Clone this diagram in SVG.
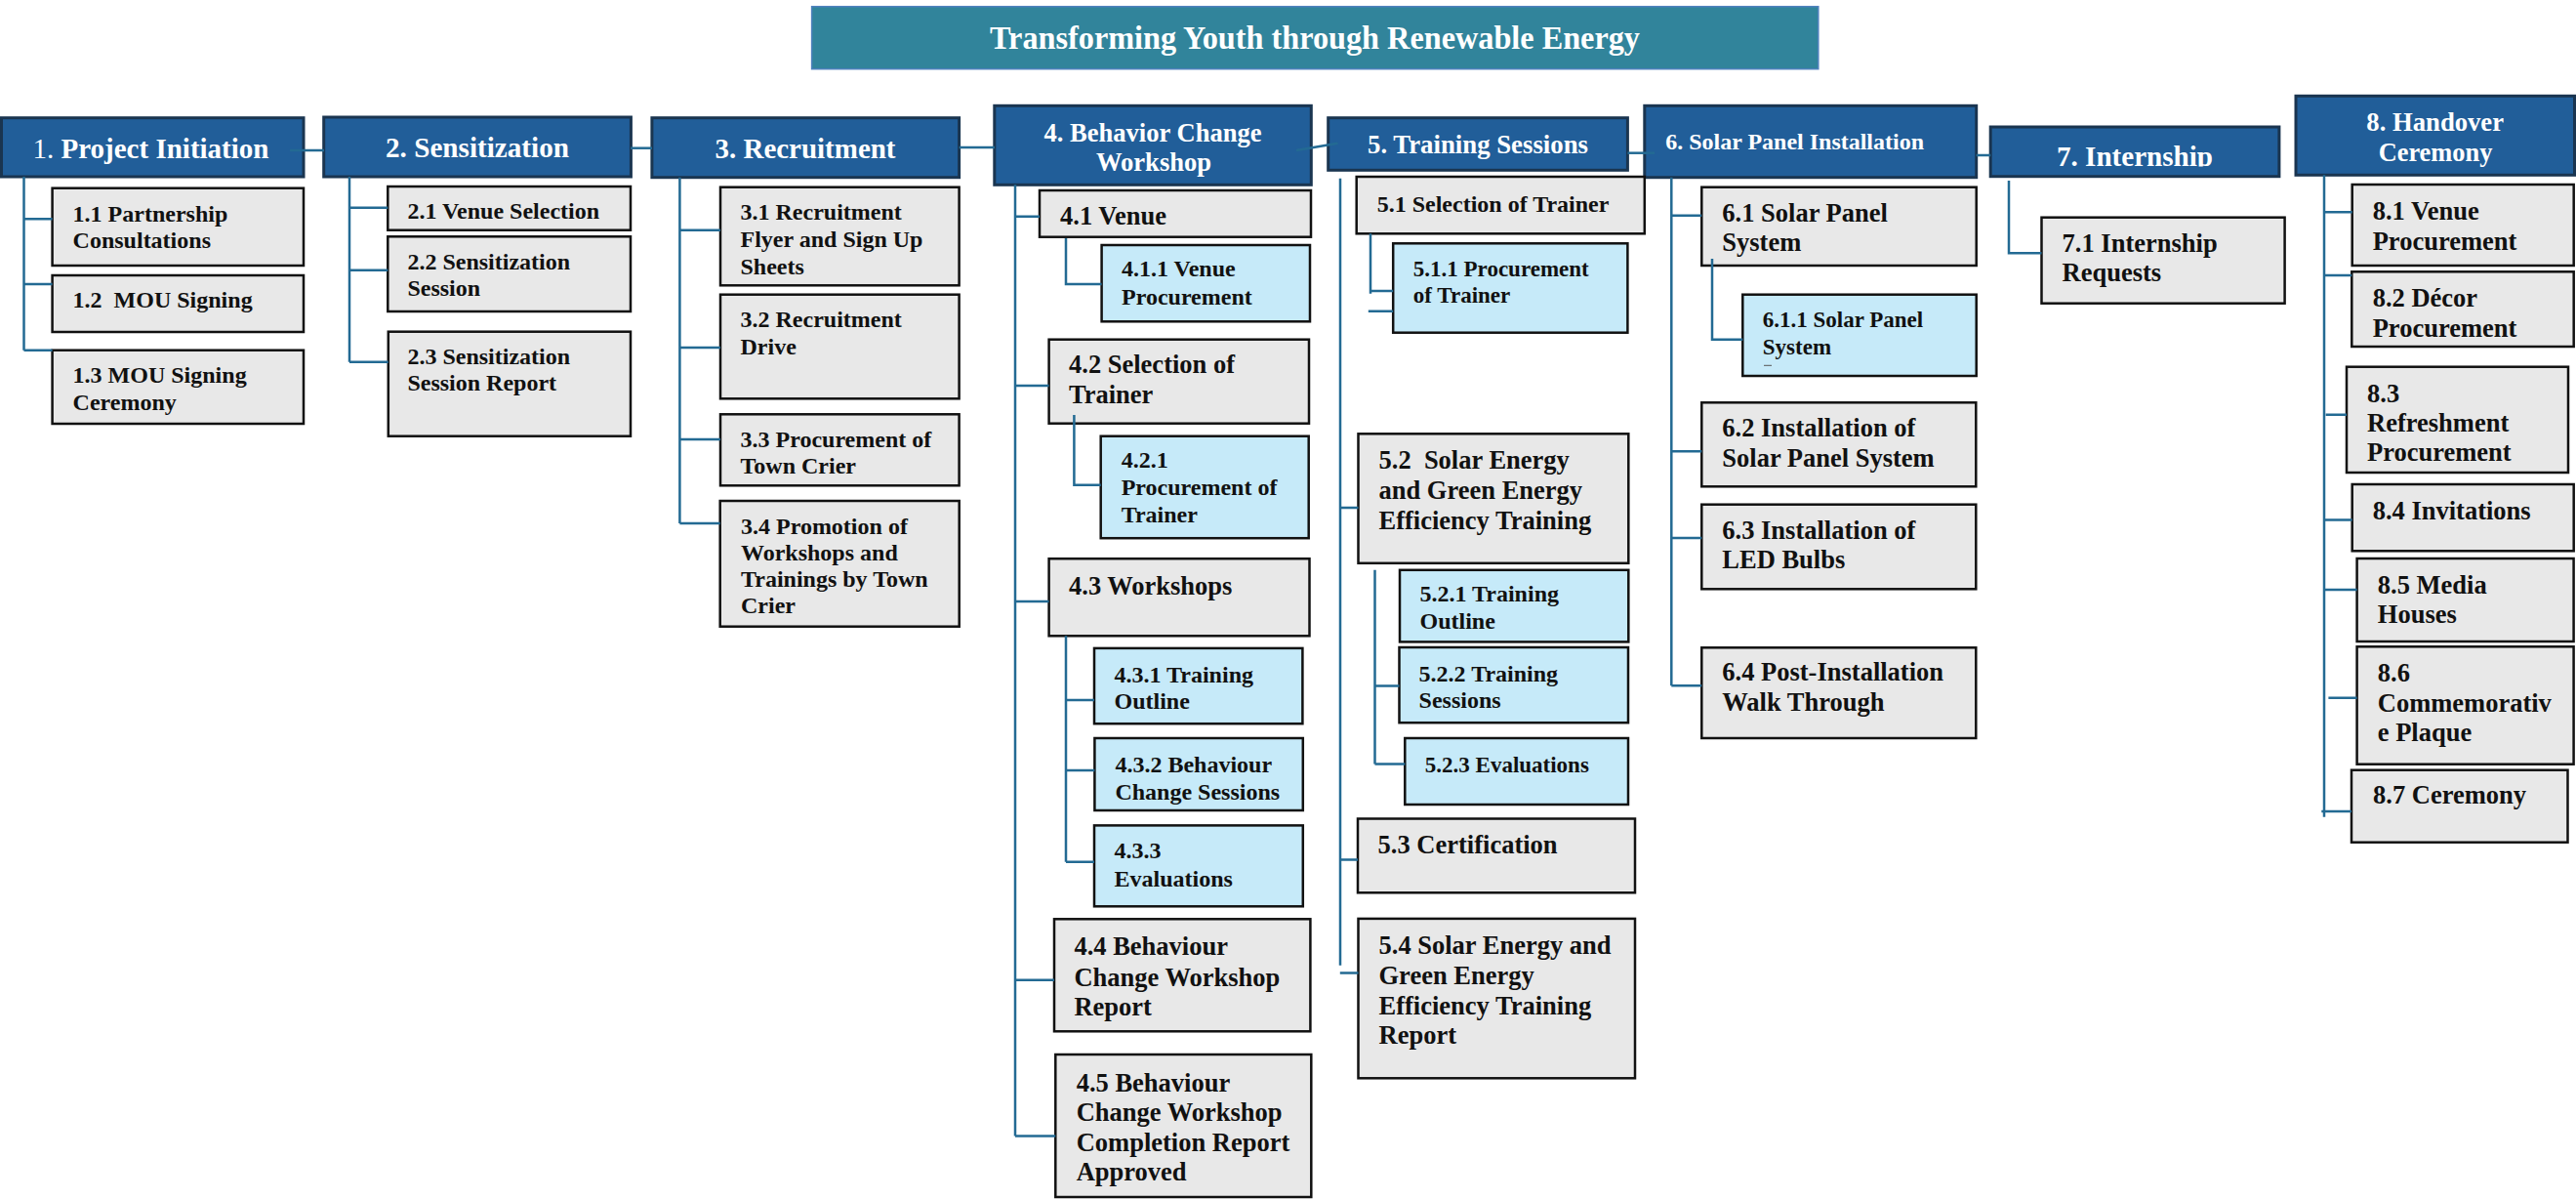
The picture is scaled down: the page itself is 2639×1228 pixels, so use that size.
<svg xmlns="http://www.w3.org/2000/svg" width="2639" height="1228" viewBox="0 0 2639 1228">
  <defs>
    <style>
      .title-box { fill: #31849b; stroke: #4f81bd; stroke-width: 1.5; }
      .hd { fill: #215e99; stroke: #1a3550; stroke-width: 3; }
      .gy { fill: #e8e8e8; stroke: #111; stroke-width: 2.5; }
      .lb { fill: #c6eaf9; stroke: #111; stroke-width: 2.5; }
      .ttl { font-family: "Liberation Serif", serif; font-weight: bold; font-size: 33px; fill: #fff; }
      .ht { font-family: "Liberation Serif", serif; font-weight: bold; fill: #fff; }
      .t24 { font-family: "Liberation Serif", serif; font-weight: bold; font-size: 24px; fill: #111; }
      .t23 { font-family: "Liberation Serif", serif; font-weight: bold; font-size: 23px; fill: #111; }
      .t26 { font-family: "Liberation Serif", serif; font-weight: bold; font-size: 26.5px; fill: #111; }
      .cn path { stroke: #236a93; stroke-width: 2.5; fill: none; }
    </style>
    <clipPath id="clip-h7">
      <rect x="2039" y="130" width="296" height="40.5"/>
    </clipPath>
  </defs>

  <rect width="2639" height="1228" fill="#fff"/>

  <!-- Title banner -->
  <g id="title">
    <rect class="title-box" x="831.6" y="6.7" width="1031.2" height="64"/>
    <text class="ttl" x="1347" y="50" text-anchor="middle" textLength="666" lengthAdjust="spacingAndGlyphs">Transforming Youth through Renewable Energy</text>
  </g>

  <!-- Level 1 deliverables -->
  <g id="n1">
    <rect class="hd" x="1.5" y="120.7" width="309.5" height="60.3"/>
    <text class="ht" x="154.5" y="162.3" font-size="30" text-anchor="middle" textLength="242" lengthAdjust="spacingAndGlyphs"><tspan font-weight="normal">1.</tspan> Project Initiation</text>
  </g>
  <g id="n2">
    <rect class="hd" x="331.7" y="120" width="314.7" height="61"/>
    <text class="ht" x="489" y="161" font-size="30" text-anchor="middle" textLength="188" lengthAdjust="spacingAndGlyphs">2. Sensitization</text>
  </g>
  <g id="n3">
    <rect class="hd" x="667.9" y="120.7" width="314.7" height="61"/>
    <text class="ht" x="825" y="161.7" font-size="30" text-anchor="middle" textLength="185" lengthAdjust="spacingAndGlyphs">3. Recruitment</text>
  </g>
  <g id="n4">
    <rect class="hd" x="1018.8" y="108.3" width="324.5" height="81"/>
    <text class="ht" x="1181" y="145" font-size="28" text-anchor="middle" textLength="223" lengthAdjust="spacingAndGlyphs">4. Behavior Change</text>
    <text class="ht" x="1182" y="175" font-size="28" text-anchor="middle" textLength="118" lengthAdjust="spacingAndGlyphs">Workshop</text>
  </g>
  <g id="n5">
    <rect class="hd" x="1360.7" y="120.7" width="306.7" height="53.6"/>
    <text class="ht" x="1514" y="156.7" font-size="28" text-anchor="middle" textLength="226" lengthAdjust="spacingAndGlyphs">5. Training Sessions</text>
  </g>
  <g id="n6">
    <rect class="hd" x="1684.8" y="108.3" width="339.9" height="73.4"/>
    <text class="ht" x="1706.3" y="153.3" font-size="23" font-weight="normal" textLength="264.7" lengthAdjust="spacingAndGlyphs">6. Solar Panel Installation</text>
  </g>
  <g id="n7">
    <rect class="hd" x="2039.2" y="130" width="295.7" height="50.7"/>
    <text class="ht" x="2187" y="170" font-size="30" text-anchor="middle" textLength="160" lengthAdjust="spacingAndGlyphs" clip-path="url(#clip-h7)">7. Internship</text>
  </g>
  <g id="n8">
    <rect class="hd" x="2352" y="98.3" width="285.5" height="81"/>
    <text class="ht" x="2494.7" y="134.3" font-size="27" text-anchor="middle" textLength="140.7" lengthAdjust="spacingAndGlyphs">8. Handover</text>
    <text class="ht" x="2495" y="165" font-size="27" text-anchor="middle" textLength="116.7" lengthAdjust="spacingAndGlyphs">Ceremony</text>
  </g>

  <!-- 1. Project Initiation -->
  <g id="n1-1">
    <rect class="gy" x="53.6" y="192.7" width="257.4" height="79.3"/>
    <text class="t24"><tspan x="74.6" y="226.7">1.1 Partnership</tspan><tspan x="74.6" y="254">Consultations</tspan></text>
  </g>
  <g id="n1-2">
    <rect class="gy" x="53.6" y="282" width="257.4" height="58"/>
    <text class="t24" xml:space="preserve" x="74.6" y="315">1.2  MOU Signing</text>
  </g>
  <g id="n1-3">
    <rect class="gy" x="53.6" y="358.7" width="257.4" height="75.3"/>
    <text class="t24"><tspan x="74.6" y="391.7">1.3 MOU Signing</tspan><tspan x="74.6" y="420">Ceremony</tspan></text>
  </g>

  <!-- 2. Sensitization -->
  <g id="n2-1">
    <rect class="gy" x="397.3" y="191" width="248.7" height="44.7"/>
    <text class="t24" x="417.4" y="224">2.1 Venue Selection</text>
  </g>
  <g id="n2-2">
    <rect class="gy" x="397.3" y="242.3" width="248.7" height="76.7"/>
    <text class="t24"><tspan x="417.4" y="276">2.2 Sensitization</tspan><tspan x="417.4" y="302.7">Session</tspan></text>
  </g>
  <g id="n2-3">
    <rect class="gy" x="397.8" y="339.7" width="248.2" height="107"/>
    <text class="t24"><tspan x="417.4" y="372.7">2.3 Sensitization</tspan><tspan x="417.4" y="400">Session Report</tspan></text>
  </g>

  <!-- 3. Recruitment -->
  <g id="n3-1">
    <rect class="gy" x="738" y="191.7" width="244.6" height="100.6"/>
    <text class="t24"><tspan x="758.5" y="225">3.1 Recruitment</tspan><tspan x="758.5" y="253">Flyer and Sign Up</tspan><tspan x="758.5" y="280.7">Sheets</tspan></text>
  </g>
  <g id="n3-2">
    <rect class="gy" x="738" y="301.7" width="244.6" height="106.6"/>
    <text class="t24"><tspan x="758.5" y="335">3.2 Recruitment</tspan><tspan x="758.5" y="362.7">Drive</tspan></text>
  </g>
  <g id="n3-3">
    <rect class="gy" x="738" y="424.3" width="244.6" height="73"/>
    <text class="t24"><tspan x="758.5" y="457.7">3.3 Procurement of</tspan><tspan x="758.5" y="485">Town Crier</tspan></text>
  </g>
  <g id="n3-4">
    <rect class="gy" x="737.7" y="513" width="245" height="128.7"/>
    <text class="t24"><tspan x="759" y="546.7">3.4 Promotion of</tspan><tspan x="759" y="573.5">Workshops and</tspan><tspan x="759" y="600.7">Trainings by Town</tspan><tspan x="759" y="628.3">Crier</tspan></text>
  </g>

  <!-- 4. Behavior Change Workshop -->
  <g id="n4-1">
    <rect class="gy" x="1065" y="195" width="278" height="47.7"/>
    <text class="t26" x="1086" y="230">4.1 Venue</text>
  </g>
  <g id="n4-1-1">
    <rect class="lb" x="1128.6" y="251" width="213.4" height="78.3"/>
    <text class="t24"><tspan x="1149" y="283.3">4.1.1 Venue</tspan><tspan x="1149" y="311.7">Procurement</tspan></text>
  </g>
  <g id="n4-2">
    <rect class="gy" x="1074.6" y="347.7" width="266.4" height="86"/>
    <text class="t26"><tspan x="1095" y="382.3">4.2 Selection of</tspan><tspan x="1095" y="413.3">Trainer</tspan></text>
  </g>
  <g id="n4-2-1">
    <rect class="lb" x="1127.7" y="446.7" width="213" height="104.5"/>
    <text class="t24"><tspan x="1148.7" y="479.3">4.2.1</tspan><tspan x="1148.7" y="507.3">Procurement of</tspan><tspan x="1148.7" y="535">Trainer</tspan></text>
  </g>
  <g id="n4-3">
    <rect class="gy" x="1074.6" y="572.2" width="266.9" height="79.1"/>
    <text class="t26" x="1095" y="609.4">4.3 Workshops</text>
  </g>
  <g id="n4-3-1">
    <rect class="lb" x="1121" y="663.9" width="213.4" height="77.3"/>
    <text class="t24"><tspan x="1141.5" y="699.3">4.3.1 Training</tspan><tspan x="1141.5" y="726.3">Outline</tspan></text>
  </g>
  <g id="n4-3-2">
    <rect class="lb" x="1121.4" y="756" width="213.4" height="74"/>
    <text class="t24"><tspan x="1142.4" y="791">4.3.2 Behaviour</tspan><tspan x="1142.4" y="818.9">Change Sessions</tspan></text>
  </g>
  <g id="n4-3-3">
    <rect class="lb" x="1121" y="845.4" width="213.8" height="82.9"/>
    <text class="t24"><tspan x="1141.5" y="879.4">4.3.3</tspan><tspan x="1141.5" y="908.3">Evaluations</tspan></text>
  </g>
  <g id="n4-4">
    <rect class="gy" x="1080" y="941.3" width="262.4" height="115"/>
    <text class="t26"><tspan x="1100.4" y="978.1">4.4 Behaviour</tspan><tspan x="1100.4" y="1009.8">Change Workshop</tspan><tspan x="1100.4" y="1040">Report</tspan></text>
  </g>
  <g id="n4-5">
    <rect class="gy" x="1081.3" y="1080" width="262" height="146"/>
    <text class="t26"><tspan x="1102.7" y="1117.8">4.5 Behaviour</tspan><tspan x="1102.7" y="1148">Change Workshop</tspan><tspan x="1102.7" y="1178.8">Completion Report</tspan><tspan x="1102.7" y="1209">Approved</tspan></text>
  </g>

  <!-- 5. Training Sessions -->
  <g id="n5-1">
    <rect class="gy" x="1389.7" y="181" width="295.1" height="58.3"/>
    <text class="t24" font-size="24.8" x="1410.7" y="216.7">5.1 Selection of Trainer</text>
  </g>
  <g id="n5-1-1">
    <rect class="lb" x="1427.2" y="249.3" width="240.2" height="91.4"/>
    <text class="t23"><tspan x="1447.8" y="282.7">5.1.1 Procurement</tspan><tspan x="1447.8" y="310">of Trainer</tspan></text>
  </g>
  <g id="n5-2">
    <rect class="gy" x="1391.5" y="444.3" width="276.8" height="132.5"/>
    <text class="t26" xml:space="preserve"><tspan x="1412.5" y="480">5.2  Solar Energy</tspan><tspan x="1412.5" y="510.7">and Green Energy</tspan><tspan x="1412.5" y="541.7">Efficiency Training</tspan></text>
  </g>
  <g id="n5-2-1">
    <rect class="lb" x="1434" y="583.8" width="234.3" height="73.6"/>
    <text class="t24"><tspan x="1454.5" y="616.4">5.2.1 Training</tspan><tspan x="1454.5" y="644.3">Outline</tspan></text>
  </g>
  <g id="n5-2-2">
    <rect class="lb" x="1433.5" y="663" width="234.5" height="77.2"/>
    <text class="t24"><tspan x="1453.6" y="697.9">5.2.2 Training</tspan><tspan x="1453.6" y="725.3">Sessions</tspan></text>
  </g>
  <g id="n5-2-3">
    <rect class="lb" x="1439.3" y="756" width="228.7" height="68"/>
    <text class="t23" x="1459.8" y="791">5.2.3 Evaluations</text>
  </g>
  <g id="n5-3">
    <rect class="gy" x="1391" y="838.5" width="284" height="75.8"/>
    <text class="t26" x="1411.6" y="873.8">5.3 Certification</text>
  </g>
  <g id="n5-4">
    <rect class="gy" x="1391.5" y="940.9" width="283.5" height="163.4"/>
    <text class="t26"><tspan x="1412.5" y="977.2">5.4 Solar Energy and</tspan><tspan x="1412.5" y="1007.5">Green Energy</tspan><tspan x="1412.5" y="1038.6">Efficiency Training</tspan><tspan x="1412.5" y="1068.9">Report</tspan></text>
  </g>

  <!-- 6. Solar Panel Installation -->
  <g id="n6-1">
    <rect class="gy" x="1743.3" y="191.7" width="281.4" height="80.3"/>
    <text class="t26"><tspan x="1764.3" y="226.7">6.1 Solar Panel</tspan><tspan x="1764.3" y="256.7">System</tspan></text>
  </g>
  <g id="n6-1-1">
    <rect class="lb" x="1785.3" y="301.7" width="239.4" height="83.3"/>
    <text class="t23"><tspan x="1805.8" y="335">6.1.1 Solar Panel</tspan><tspan x="1805.8" y="362.7">System</tspan></text>
    <line x1="1807" y1="374.3" x2="1815" y2="374.3" stroke="#555" stroke-width="1"/>
  </g>
  <g id="n6-2">
    <rect class="gy" x="1743.3" y="412.3" width="281" height="86"/>
    <text class="t26"><tspan x="1764.3" y="446.7">6.2 Installation of</tspan><tspan x="1764.3" y="478.3">Solar Panel System</tspan></text>
  </g>
  <g id="n6-3">
    <rect class="gy" x="1743.3" y="516.7" width="281" height="86.6"/>
    <text class="t26"><tspan x="1764.3" y="551.7">6.3 Installation of</tspan><tspan x="1764.3" y="581.7">LED Bulbs</tspan></text>
  </g>
  <g id="n6-4">
    <rect class="gy" x="1743.3" y="663.3" width="281" height="92.7"/>
    <text class="t26"><tspan x="1764.3" y="696.7">6.4 Post-Installation</tspan><tspan x="1764.3" y="728.3">Walk Through</tspan></text>
  </g>

  <!-- 7. Internship -->
  <g id="n7-1">
    <rect class="gy" x="2091.5" y="222.7" width="249.1" height="88"/>
    <text class="t26"><tspan x="2112.6" y="258.3">7.1 Internship</tspan><tspan x="2112.6" y="288.3">Requests</tspan></text>
  </g>

  <!-- 8. Handover Ceremony -->
  <g id="n8-1">
    <rect class="gy" x="2409.7" y="189" width="227" height="83"/>
    <text class="t26"><tspan x="2430.7" y="225">8.1 Venue</tspan><tspan x="2430.7" y="255.7">Procurement</tspan></text>
  </g>
  <g id="n8-2">
    <rect class="gy" x="2409.3" y="278.3" width="227.4" height="76.7"/>
    <text class="t26"><tspan x="2430.7" y="314">8.2 Décor</tspan><tspan x="2430.7" y="345">Procurement</tspan></text>
  </g>
  <g id="n8-3">
    <rect class="gy" x="2404" y="375.7" width="227" height="108.3"/>
    <text class="t26"><tspan x="2425" y="411.7">8.3</tspan><tspan x="2425" y="441.7">Refreshment</tspan><tspan x="2425" y="471.7">Procurement</tspan></text>
  </g>
  <g id="n8-4">
    <rect class="gy" x="2409.7" y="496" width="227" height="68.3"/>
    <text class="t26" x="2430.7" y="531.7">8.4 Invitations</text>
  </g>
  <g id="n8-5">
    <rect class="gy" x="2414.6" y="572" width="222" height="85"/>
    <text class="t26"><tspan x="2435.8" y="608.3">8.5 Media</tspan><tspan x="2435.8" y="638.3">Houses</tspan></text>
  </g>
  <g id="n8-6">
    <rect class="gy" x="2414.6" y="662.3" width="222" height="120.4"/>
    <text class="t26"><tspan x="2435.8" y="698.3">8.6</tspan><tspan x="2435.8" y="729.3">Commemorativ</tspan><tspan x="2435.8" y="759.3">e Plaque</tspan></text>
  </g>
  <g id="n8-7">
    <rect class="gy" x="2409" y="788.7" width="221.5" height="74"/>
    <text class="t26" x="2431.1" y="823.3">8.7 Ceremony</text>
  </g>

  <!-- Connectors -->
  <g id="connectors" class="cn">
    <!-- top-level chain -->
    <path d="M297,154 H332"/>
    <path d="M646,151.7 H668"/>
    <path d="M982.6,151 H1019"/>
    <path d="M1328,154 L1370.5,146.7"/>
    <path d="M1667.4,156.7 H1695"/>
    <path d="M2024.7,159 H2039.2"/>
    <!-- 1 -->
    <path d="M24.5,181 V358.7 M24.5,224.3 H53.6 M24.5,291 H53.6 M24.5,358.7 H53.6"/>
    <!-- 2 -->
    <path d="M358,181 V370.7 M358,212.7 H397.3 M358,276.7 H397.3 M358,370.7 H397.8"/>
    <!-- 3 -->
    <path d="M696.4,181.7 V536 M696.4,235.7 H738 M696.4,356 H738 M696.4,450 H738 M696.4,536 H737.7"/>
    <!-- 4 -->
    <path d="M1040,189.3 V1163.4 M1040,221.7 H1065 M1040,395 H1074.6 M1040,616 H1074.6 M1040,1003.7 H1080 M1040,1163.4 H1081.3"/>
    <path d="M1092,244 V291 H1128.6"/>
    <path d="M1100.4,425 V496.7 H1127.7"/>
    <path d="M1092,651.3 V882.7 M1092,717 H1121 M1092,789 H1121.4 M1092,882.7 H1121"/>
    <!-- 5 -->
    <path d="M1373,182.7 V988.8 M1373,520 H1391.5 M1373,880.5 H1391 M1372.8,996.5 H1391.5"/>
    <path d="M1404,239.3 V300.7 M1404,298 H1427.2 M1401.8,318.7 H1427.2"/>
    <path d="M1408.5,583.8 V782.6 M1408.5,702.5 H1433.5 M1408.5,782.6 H1439.3"/>
    <!-- 6 -->
    <path d="M1712.3,181.7 V702.3 M1712.3,220.7 H1743.3 M1712.3,462.3 H1743.3 M1712.3,551 H1743.3 M1712.3,702.3 H1743.3"/>
    <path d="M1754,265 V347.7 H1785.3"/>
    <!-- 7 -->
    <path d="M2058,185 V259.3 H2091.5"/>
    <!-- 8 -->
    <path d="M2381,179.3 V836.7 M2381,217.3 H2409.7 M2381,282 H2409.3 M2382.7,424.7 H2404 M2381,532.5 H2409.7 M2381,604 H2414.6 M2385.4,714.7 H2414.6 M2378.3,831 H2409"/>
  </g>
</svg>
